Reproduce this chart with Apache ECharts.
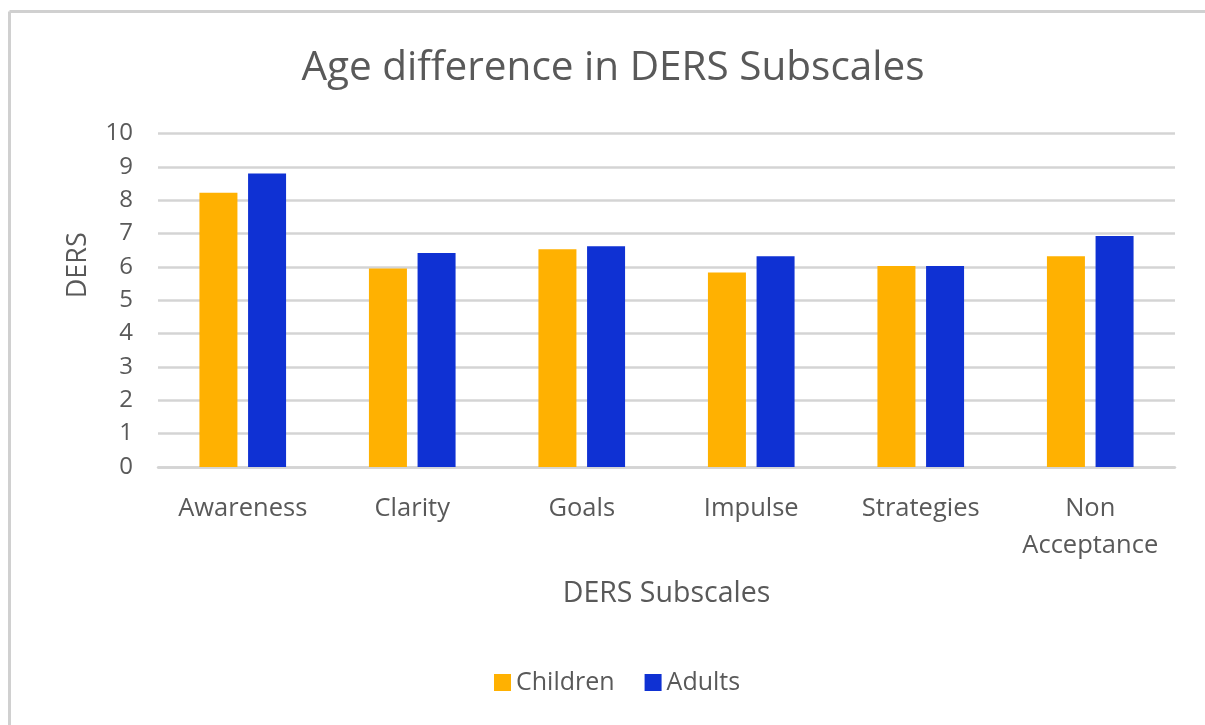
<!DOCTYPE html>
<html>
<head>
<meta charset="utf-8">
<title>Age difference in DERS Subscales</title>
<script src="https://cdn.jsdelivr.net/npm/echarts@6/dist/echarts.min.js"></script>
<style>
  html, body { margin: 0; padding: 0; background: #ffffff; }
  #chart { width: 1205px; height: 725px; }
</style>
</head>
<body>
<div id="chart"></div>
<script>
// DERS subscale means by age group
var subscales = ['Awareness', 'Clarity', 'Goals', 'Impulse', 'Strategies', 'Non\nAcceptance'];
var childrenScores = [8.22, 5.95, 6.53, 5.83, 6.03, 6.32];
var adultScores = [8.80, 6.42, 6.62, 6.32, 6.03, 6.93];
var yTicks = { min: 0, max: 10, interval: 1 };

var textColor = '#595959';
var fontFamily = '"Open Sans", Lato, sans-serif';

var chart = echarts.init(document.getElementById('chart'), null, { renderer: 'canvas' });

chart.setOption({
  backgroundColor: '#ffffff',
  animation: false,
  textStyle: { fontFamily: fontFamily, color: textColor },
  title: {
    text: 'Age difference in DERS Subscales',
    left: 608,
    top: 43,
    textAlign: 'center',
    textStyle: { fontFamily: fontFamily, fontSize: 40.5, fontWeight: 'normal', color: textColor }
  },
  graphic: [
    // chart-area frame (top and left edges)
    { type: 'line', shape: { x1: 9.5, y1: 11.5, x2: 1205, y2: 11.5 }, style: { stroke: '#d0d0d0', lineWidth: 3 }, silent: true },
    { type: 'line', shape: { x1: 9.5, y1: 11.5, x2: 9.5, y2: 725 }, style: { stroke: '#d0d0d0', lineWidth: 3 }, silent: true }
  ],
  legend: {
    data: ['Children', 'Adults'],
    left: 489,
    top: 665,
    itemWidth: 17,
    itemHeight: 17,
    itemGap: 30,
    icon: 'rect',
    textStyle: { fontFamily: fontFamily, fontSize: 25, color: textColor }
  },
  grid: { left: 158, right: 30, top: 133.5, bottom: 258, containLabel: false },
  xAxis: {
    type: 'category',
    data: subscales,
    name: 'DERS Subscales',
    nameLocation: 'middle',
    nameGap: 112,
    nameTextStyle: { fontFamily: fontFamily, fontSize: 28.5, color: textColor },
    axisLine: { show: true, lineStyle: { color: '#d4d4d4', width: 2.5 } },
    axisTick: { show: false },
    axisLabel: {
      fontFamily: fontFamily, fontSize: 25.5, color: textColor,
      margin: 23, lineHeight: 37, interval: 0
    }
  },
  yAxis: {
    type: 'value',
    min: yTicks.min,
    max: yTicks.max,
    interval: yTicks.interval,
    name: 'DERS',
    nameLocation: 'middle',
    nameGap: 66,
    nameRotate: 90,
    nameTextStyle: { fontFamily: fontFamily, fontSize: 27, color: textColor, padding: [0, 0, 0, 70] },
    axisLine: { show: false },
    axisTick: { show: false },
    axisLabel: { fontFamily: fontFamily, fontSize: 24, color: textColor, margin: 25 },
    splitLine: { show: true, lineStyle: { color: '#d4d4d4', width: 2.5 } }
  },
  series: [
    {
      name: 'Children',
      type: 'bar',
      data: childrenScores,
      barWidth: 38,
      barGap: '28%',
      itemStyle: { color: '#FFB101' }
    },
    {
      name: 'Adults',
      type: 'bar',
      data: adultScores,
      barWidth: 38,
      itemStyle: { color: '#0F31D3' }
    }
  ]
});
</script>
</body>
</html>
